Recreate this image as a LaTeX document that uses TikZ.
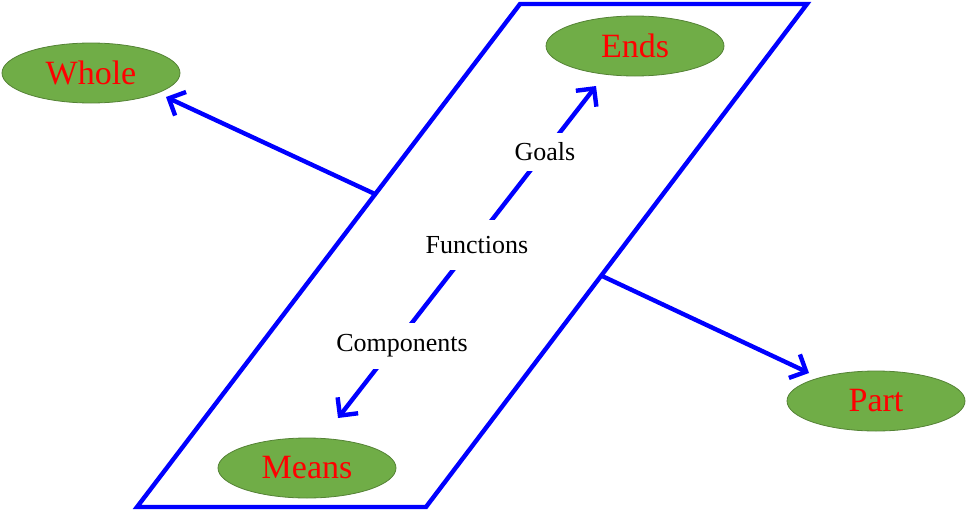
\documentclass[tikz,border=0pt]{standalone}
\usepackage{fontspec}
\setmainfont{Liberation Serif}
\usetikzlibrary{shapes.geometric,arrows.meta,calc}
\definecolor{ellfill}{RGB}{112,173,71}
\definecolor{elldraw}{RGB}{84,130,53}
\definecolor{pblue}{RGB}{0,0,255}
\begin{document}
\begin{tikzpicture}[x=1pt,y=-1pt,
  goal/.style={ellipse,fill=ellfill,draw=elldraw,line width=0.8pt,minimum width=178pt,minimum height=60pt,inner sep=0pt,text=red,font=\fontsize{34}{36}\selectfont},
  blueline/.style={draw=pblue,line width=4.4pt},
  barb/.style={-{Straight Barb[length=13pt,width=26pt,line width=4.4pt]}},
  lbl/.style={fill=white,inner sep=0pt,font=\fontsize{26}{28}\selectfont}]
\useasboundingbox (0,0) rectangle (969,514);
% parallelogram
\coordinate (TL) at (520,4);
\coordinate (TR) at (807,4);
\coordinate (BR) at (426,507);
\coordinate (BL) at (137,507);
\draw[blueline,line join=miter] (TL) -- (TR) -- (BR) -- (BL) -- cycle;
% ellipses
\node[goal] (whole) at (91,73) {Whole};
\node[goal] (ends) at (635,46) {Ends};
\node[goal] (part) at (876,401) {Part};
\node[goal] (means) at (307,468) {Means};
% side arrows
\coordinate (wstart) at ($(TL)!0.378!(BL)$);
\coordinate (pstart) at ($(TR)!0.54!(BR)$);
\coordinate (wtip) at (166,97);
\coordinate (ptip) at (809,373);
\draw[blueline,barb] (wstart) -- (wtip);
\draw[blueline,barb] (pstart) -- (ptip);
% central arrow
\coordinate (etip) at (596,86);
\coordinate (mtip) at (338,418);
\draw[blueline,{Straight Barb[length=13pt,width=26pt,line width=4.4pt]}-{Straight Barb[length=13pt,width=26pt,line width=4.4pt]}] (mtip) -- (etip);
\node[lbl,minimum height=38pt,minimum width=80pt] (goals) at (545,152) {Goals};
\node[lbl,minimum height=50pt,minimum width=110pt] (functions) at (477,245) {Functions};
\node[lbl,minimum height=46pt,minimum width=136pt] (components) at (402,346) {Components};
\end{tikzpicture}
\end{document}
